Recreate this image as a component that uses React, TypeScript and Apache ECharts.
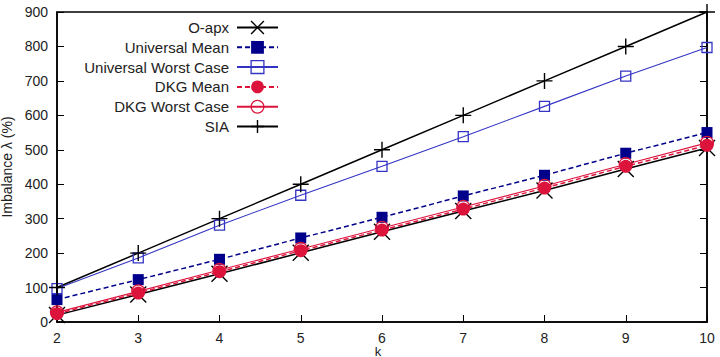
import React, { useEffect, useRef } from "react";
import * as echarts from "echarts";

// k values on the x axis
const kValues = [2, 3, 4, 5, 6, 7, 8, 9, 10];

// Imbalance λ (%) per k
const oApx = [20, 80, 140, 201, 262, 322, 382, 444, 505];
const universalMean = [65, 123, 182, 244, 304, 366, 426, 490, 550];
const universalWorst = [97, 186, 281, 368, 452, 538, 626, 714, 797];
const dkgMean = [24, 84, 146, 207, 267, 328, 389, 452, 513];
const dkgWorst = [28, 89, 151, 212, 273, 334, 395, 458, 520];
const sia = [100, 200, 300, 400, 500, 600, 700, 800, 900];

const FONT = "'Liberation Sans', Arial, sans-serif";
const NAVY = "#00008b";
const BLUE = "#3434c4";
const RED = "#dc143c";

const X_PATH = "path://M0,0L10,10M10,0L0,10";
const PLUS_PATH = "path://M5,0L5,10M0,5L10,5";
const SQUARE_PATH = "path://M0,0H10V10H0Z";
const CIRCLE_PATH = "path://M0,5A5,5,0,1,1,10,5A5,5,0,1,1,0,5Z";

const pairs = (ys: number[]) => kValues.map((k, i) => [k, ys[i]]);

export default function App() {
  const ref = useRef<HTMLDivElement>(null);

  useEffect(() => {
    if (!ref.current) return;
    const chart = echarts.init(ref.current, undefined, { renderer: "svg" });

    const option: any = {
      animation: false,
      backgroundColor: "#fff",
      textStyle: { fontFamily: FONT },
      grid: {
        left: 57,
        right: 13,
        top: 12,
        bottom: 35,
        containLabel: false,
        outerBoundsMode: "none",
        show: true,
        borderColor: "#000",
        borderWidth: 1.5,
      },
      legend: {
        orient: "vertical",
        align: "right",
        right: 441,
        top: 20,
        padding: 0,
        itemWidth: 41,
        itemHeight: 16,
        itemGap: 4.8,
        selectedMode: false,
        textStyle: { fontSize: 15, color: "#222", fontFamily: FONT, padding: [0, 3, 0, 0] },
        data: [
          { name: "O-apx", itemStyle: { borderWidth: 1.4 } },
          { name: "Universal Mean" },
          { name: "Universal Worst Case", itemStyle: { color: "transparent", borderWidth: 1.3 } },
          { name: "DKG Mean" },
          { name: "DKG Worst Case", itemStyle: { color: "transparent", borderWidth: 1.3 } },
          { name: "SIA", itemStyle: { borderWidth: 1.4 } },
        ],
      },
      xAxis: [
        {
          type: "value",
          min: 2,
          max: 10,
          interval: 1,
          name: "k",
          nameLocation: "middle",
          nameGap: 23,
          nameMoveOverlap: false,
          nameTextStyle: {
            fontSize: 13,
            lineHeight: 12,
            color: "#222",
            verticalAlign: "top",
            padding: [0, 8, 0, 0],
          },
          axisLine: { show: true, lineStyle: { color: "#000", width: 1.5 } },
          axisTick: { show: true, inside: true, length: 7, lineStyle: { color: "#000" } },
          axisLabel: { fontSize: 14, lineHeight: 14, color: "#222", margin: 9 },
          splitLine: { show: false },
        },
      ],
      yAxis: [
        {
          type: "value",
          min: 0,
          max: 900,
          interval: 100,
          name: "Imbalance λ (%)",
          nameLocation: "middle",
          nameGap: 38,
          nameRotate: 90,
          nameTextStyle: { fontSize: 14, color: "#222" },
          axisLine: { show: true, lineStyle: { color: "#000", width: 1.5 } },
          axisTick: { show: true, inside: true, length: 7, lineStyle: { color: "#000" } },
          axisLabel: { fontSize: 14, color: "#222", margin: 9 },
          splitLine: { show: false },
        },
        {
          type: "value",
          position: "right",
          min: 0,
          max: 900,
          interval: 100,
          axisLine: { show: true, lineStyle: { color: "#000", width: 1.5 } },
          axisTick: { show: true, inside: true, length: 7, lineStyle: { color: "#000" } },
          axisLabel: { show: false },
          splitLine: { show: false },
        },
      ],
      series: [
        {
          name: "O-apx",
          type: "line",
          data: pairs(oApx),
          symbol: X_PATH,
          symbolSize: 16,
          lineStyle: { color: "#000", width: 1.5 },
          itemStyle: { color: "#000", borderColor: "#000", borderWidth: 1.4 },
        },
        {
          name: "Universal Mean",
          type: "line",
          data: pairs(universalMean),
          symbol: "rect",
          symbolSize: 11,
          lineStyle: { color: NAVY, width: 1.5, type: [5, 3] },
          itemStyle: { color: NAVY },
        },
        {
          name: "Universal Worst Case",
          type: "line",
          data: pairs(universalWorst),
          symbol: SQUARE_PATH,
          symbolSize: 10,
          lineStyle: { color: BLUE, width: 1.1 },
          itemStyle: { color: "transparent", borderColor: BLUE, borderWidth: 1.3 },
        },
        {
          name: "DKG Mean",
          type: "line",
          data: pairs(dkgMean),
          symbol: "circle",
          symbolSize: 13,
          lineStyle: { color: RED, width: 1.5, type: [5, 3] },
          itemStyle: { color: RED },
        },
        {
          name: "DKG Worst Case",
          type: "line",
          data: pairs(dkgWorst),
          symbol: CIRCLE_PATH,
          symbolSize: 13,
          lineStyle: { color: RED, width: 1.1 },
          itemStyle: { color: "transparent", borderColor: RED, borderWidth: 1.3 },
        },
        {
          name: "SIA",
          type: "line",
          data: pairs(sia),
          symbol: PLUS_PATH,
          symbolSize: 16,
          lineStyle: { color: "#000", width: 1.5 },
          itemStyle: { color: "#000", borderColor: "#000", borderWidth: 1.4 },
        },
      ],
    };

    chart.setOption(option);
    return () => chart.dispose();
  }, []);

  return (
    <div
      ref={ref}
      style={{ position: "fixed", left: 0, top: 0, width: 720, height: 357 }}
    />
  );
}
